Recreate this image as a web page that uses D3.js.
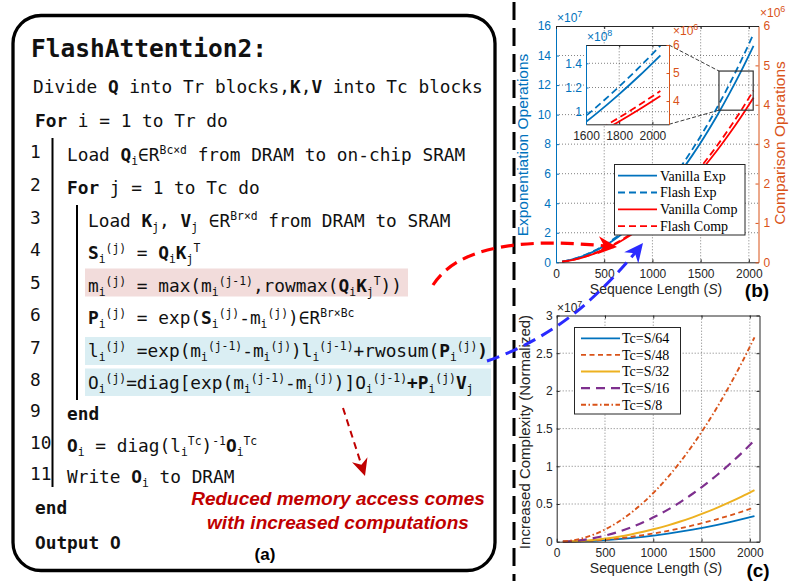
<!DOCTYPE html>
<html>
<head>
<meta charset="utf-8">
<script src="https://cdn.jsdelivr.net/npm/d3@7"></script>
<style>
  body { margin: 0; background: #fff; }
  svg { display: block; }
</style>
</head>
<body>
<script>
// ---------- data ----------
// (b) sequence lengths and operation counts (exp in 1e7, comp in 1e6)
const seqB = [64, 128, 256, 384, 512, 640, 768, 896, 1024, 1152, 1280, 1408, 1536, 1664, 1792, 1920, 2048];
const vanillaExp = [0.051, 0.129, 0.363, 0.702, 1.146, 1.695, 2.348, 3.107, 3.970, 4.938, 6.011, 7.189, 8.471, 9.859, 11.351, 12.948, 14.651];
const flashExp = [0.054, 0.136, 0.383, 0.741, 1.209, 1.788, 2.477, 3.278, 4.188, 5.210, 6.342, 7.584, 8.937, 10.401, 11.975, 13.660, 15.457];
const vanillaComp = [0.016, 0.039, 0.108, 0.206, 0.334, 0.492, 0.679, 0.896, 1.143, 1.419, 1.724, 2.060, 2.425, 2.819, 3.244, 3.697, 4.181];
const flashComp = [0.017, 0.041, 0.113, 0.215, 0.348, 0.513, 0.708, 0.935, 1.192, 1.480, 1.798, 2.149, 2.529, 2.940, 3.383, 3.856, 4.361];
const legendB = ["Vanilla Exp", "Flash Exp", "Vanilla Comp", "Flash Comp"];
const xTicksB = [0, 500, 1000, 1500, 2000];
const yTicksBL = [0, 2, 4, 6, 8, 10, 12, 14, 16];
const yTicksBR = [0, 1, 2, 3, 4, 5, 6];
const xTicksInset = [1600, 1800, 2000];
const yTicksInsetL = [10, 12, 14];
const yTicksInsetR = [4, 5, 6];
const zoomBoxS = [1690, 2045];
const zoomBoxExp = [10.3, 12.95];

// (c) increased complexity (1e7)
const seqC = [64, 128, 256, 384, 512, 640, 768, 896, 1024, 1152, 1280, 1408, 1536, 1664, 1792, 1920, 2048];
const tcS64 = [0.0003, 0.0013, 0.0053, 0.012, 0.0213, 0.0332, 0.0478, 0.0651, 0.085, 0.1076, 0.1328, 0.1607, 0.1913, 0.2245, 0.2603, 0.2988, 0.34];
const tcS48 = [0.0004, 0.0018, 0.0071, 0.016, 0.0284, 0.0444, 0.064, 0.0871, 0.1138, 0.144, 0.1777, 0.2151, 0.2559, 0.3004, 0.3484, 0.3999, 0.455];
const tcS32 = [0.0007, 0.0027, 0.0107, 0.024, 0.0428, 0.0668, 0.0962, 0.1309, 0.171, 0.2164, 0.2672, 0.3233, 0.3848, 0.4515, 0.5237, 0.6012, 0.684];
const tcS16 = [0.0013, 0.0053, 0.021, 0.0473, 0.0841, 0.1313, 0.1891, 0.2574, 0.3363, 0.4256, 0.5254, 0.6357, 0.7566, 0.8879, 1.0298, 1.1821, 1.345];
const tcS8 = [0.0026, 0.0106, 0.0423, 0.0953, 0.1694, 0.2646, 0.3811, 0.5187, 0.6775, 0.8575, 1.0586, 1.2809, 1.5244, 1.789, 2.0748, 2.3818, 2.71];
const legendC = ["Tc=S/64", "Tc=S/48", "Tc=S/32", "Tc=S/16", "Tc=S/8"];
const xTicksC = [0, 500, 1000, 1500, 2000];
const yTicksC = [0, 0.5, 1, 1.5, 2, 2.5, 3];

// (a) algorithm text: [text, format]  b = bold, s = subscript, p = superscript
const codeTitle = [["FlashAttention2:", "b"]];
const codeDivide = [["Divide ", ""], ["Q", "b"], [" into Tr blocks,", ""], ["K", "b"], [",", ""], ["V", "b"], [" into Tc blocks", ""]];
const codeForI = [["For", "b"], [" i = 1 to Tr do", ""]];
const codeRows = [
  [["Load ", ""], ["Q", "b"], ["i", "s"], ["∈R", ""], ["Bc×d", "p"], [" from DRAM to on-chip SRAM", ""]],
  [["For", "b"], [" j = 1 to Tc do", ""]],
  [["Load ", ""], ["K", "b"], ["j", "s"], [", ", ""], ["V", "b"], ["j", "s"], [" ∈R", ""], ["Br×d", "p"], [" from DRAM to SRAM", ""]],
  [["S", "b"], ["i", "s"], ["(j)", "p"], [" = ", ""], ["Q", "b"], ["i", "s"], ["K", "b"], ["j", "s"], ["T", "p"]],
  [["m", ""], ["i", "s"], ["(j)", "p"], [" = max(m", ""], ["i", "s"], ["(j-1)", "p"], [",rowmax(", ""], ["Q", "b"], ["i", "s"], ["K", "b"], ["j", "s"], ["T", "p"], ["))", ""]],
  [["P", "b"], ["i", "s"], ["(j)", "p"], [" = exp(", ""], ["S", "b"], ["i", "s"], ["(j)", "p"], ["-m", ""], ["i", "s"], ["(j)", "p"], [")∈R", ""], ["Br×Bc", "p"]],
  [["l", ""], ["i", "s"], ["(j)", "p"], [" =exp(m", ""], ["i", "s"], ["(j-1)", "p"], ["-m", ""], ["i", "s"], ["(j)", "p"], [")l", ""], ["i", "s"], ["(j-1)", "p"], ["+rwosum(", ""], ["P", "b"], ["i", "s"], ["(j)", "p"], [")", "b"]],
  [["O", ""], ["i", "s"], ["(j)", "p"], ["=diag[exp(m", ""], ["i", "s"], ["(j-1)", "p"], ["-m", ""], ["i", "s"], ["(j)", "p"], [")]O", ""], ["i", "s"], ["(j-1)", "p"], ["+P", "b"], ["i", "s"], ["(j)", "p"], ["V", "b"], ["j", "s"]],
  [["end", "b"]],
  [["O", "b"], ["i", "s"], [" = diag(l", ""], ["i", "s"], ["Tc", "p"], [")", ""], ["-1", "p"], ["O", "b"], ["i", "s"], ["Tc", "p"]],
  [["Write ", ""], ["O", "b"], ["i", "s"], [" to DRAM", ""]]
];
const codeEnd = [["end", "b"]];
const codeOutput = [["Output O", "b"]];
const noteLines = ["Reduced memory access comes", "with increased computations"];

// ---------- layout ----------
const mono = "'DejaVu Sans Mono', 'Liberation Mono', monospace";
const sans = "'Liberation Sans', Arial, sans-serif";
const serif = "'Liberation Serif', 'Times New Roman', serif";
const ink = "#262626";
const blue = "#0072BD", orange = "#D95319", yellow = "#EDB120", purple = "#7E2F8E", red = "#FF0000";
const plain = d => d;

const svg = d3.select("body").append("svg")
    .attr("width", 789)
    .attr("height", 581);

const defs = svg.append("defs");

function arrowMarker(id, color, size) {
    defs.append("marker")
        .attr("id", id)
        .attr("markerUnits", "userSpaceOnUse")
        .attr("viewBox", "-20 -10 22 20")
        .attr("refX", 0)
        .attr("refY", 0)
        .attr("markerWidth", size * 1.1)
        .attr("markerHeight", size)
        .attr("orient", "auto")
        .append("path")
        .attr("d", "M0,0 L-19,-9 L-13,0 L-19,9 Z")
        .attr("fill", color);
}
arrowMarker("arRed", red, 20);
arrowMarker("arBlue", "#2a2aff", 20);
arrowMarker("arDark", "#C00000", 18);

// ---------- panel (a) ----------
const gA = svg.append("g");

gA.append("rect")
    .attr("x", 13).attr("y", 15.5)
    .attr("width", 482).attr("height", 555)
    .attr("rx", 28).attr("ry", 28)
    .attr("fill", "none")
    .attr("stroke", "#000")
    .attr("stroke-width", 3.3);

// highlight bands
gA.append("rect").attr("x", 85).attr("y", 268.5).attr("width", 323).attr("height", 28).attr("fill", "#F2DCDB");
gA.append("rect").attr("x", 85).attr("y", 337).attr("width", 406).attr("height", 28).attr("fill", "#DAEEF3");
gA.append("rect").attr("x", 85).attr("y", 368.5).attr("width", 406).attr("height", 27.5).attr("fill", "#DAEEF3");

// indentation bars
gA.append("line").attr("x1", 52.5).attr("x2", 52.5).attr("y1", 138).attr("y2", 487).attr("stroke", "#000").attr("stroke-width", 2);
gA.append("line").attr("x1", 77).attr("x2", 77).attr("y1", 205).attr("y2", 400).attr("stroke", "#000").attr("stroke-width", 2);

function codeText(x, y, segs, size) {
    const small = size * 0.64;
    const t = gA.append("text")
        .attr("x", x).attr("y", y)
        .attr("font-family", mono)
        .attr("font-size", size)
        .attr("fill", "#111")
        .style("white-space", "pre");
    segs.forEach(([s, f]) => {
        const sp = t.append("tspan").text(s);
        if (f.includes("b")) sp.attr("font-weight", "bold");
        if (f.includes("s")) sp.attr("y", y + 4).attr("font-size", small);
        else if (f.includes("p")) sp.attr("y", y - 7).attr("font-size", small);
        else sp.attr("y", y);
    });
}

codeText(31, 57, codeTitle, 24.5);
codeText(33, 93, codeDivide, 17.8);
codeText(35, 127, codeForI, 17.8);

const rowY = [161, 194, 227, 259, 292, 324, 357, 389, 420, 452, 483];
const rowX = [67, 67, 88, 88, 88, 88, 88, 88, 67, 67, 67];
codeRows.forEach((segs, i) => {
    gA.append("text")
        .attr("x", 30).attr("y", rowY[i] - 3)
        .attr("font-family", mono)
        .attr("font-size", 17.8)
        .attr("fill", "#111")
        .text(i + 1);
    codeText(rowX[i], rowY[i], segs, 17.8);
});
codeText(35, 514, codeEnd, 17.8);
codeText(35, 549, codeOutput, 17.8);

gA.selectAll(".note")
    .data(noteLines)
    .join("text")
    .attr("x", 338)
    .attr("y", (d, i) => 505 + i * 23.5)
    .attr("text-anchor", "middle")
    .attr("font-family", sans)
    .attr("font-size", 19)
    .attr("font-weight", "bold")
    .attr("font-style", "italic")
    .attr("fill", "#C00000")
    .text(d => d);

gA.append("text")
    .attr("x", 265).attr("y", 560)
    .attr("text-anchor", "middle")
    .attr("font-family", sans)
    .attr("font-size", 17)
    .attr("font-weight", "bold")
    .text("(a)");

gA.append("path")
    .attr("d", "M343,408 L365,476")
    .attr("fill", "none")
    .attr("stroke", "#C00000")
    .attr("stroke-width", 2)
    .attr("stroke-dasharray", "7,5")
    .attr("marker-end", "url(#arDark)");

// separator
svg.append("line")
    .attr("x1", 514).attr("x2", 514)
    .attr("y1", 2).attr("y2", 581)
    .attr("stroke", "#000")
    .attr("stroke-width", 3)
    .attr("stroke-dasharray", "18,8");

// ---------- helpers ----------
function styleAxis(g, color, size) {
    g.attr("font-family", sans).attr("font-size", size);
    g.select(".domain").attr("stroke", color).attr("stroke-width", 1);
    g.selectAll(".tick line").attr("stroke", color);
    g.selectAll(".tick text").attr("fill", color);
}

function expLabel(g, x, y, exp, color) {
    const t = g.append("text")
        .attr("x", x).attr("y", y)
        .attr("font-family", sans)
        .attr("font-size", 12)
        .attr("fill", color)
        .text("×10");
    t.append("tspan").attr("dy", -5).attr("font-size", 9).text(exp);
}

function gridLines(g, xs, ys, xScale, yScale, xd, yd) {
    g.selectAll(null).data(xs).join("line")
        .attr("x1", d => xScale(d)).attr("x2", d => xScale(d))
        .attr("y1", yScale(yd[0])).attr("y2", yScale(yd[1]))
        .attr("stroke", "#444").attr("stroke-width", 0.9)
        .attr("stroke-dasharray", "1,2").attr("opacity", 0.75);
    g.selectAll(null).data(ys).join("line")
        .attr("y1", d => yScale(d)).attr("y2", d => yScale(d))
        .attr("x1", xScale(xd[0])).attr("x2", xScale(xd[1]))
        .attr("stroke", "#444").attr("stroke-width", 0.9)
        .attr("stroke-dasharray", "1,2").attr("opacity", 0.75);
}

// ---------- panel (b) ----------
const gB = svg.append("g");
const xB = d3.scaleLinear().domain([0, 2100]).range([556, 758.5]);
const yBL = d3.scaleLinear().domain([0, 16]).range([262.3, 26]);
const yBR = d3.scaleLinear().domain([0, 6]).range([262.3, 26]);

gridLines(gB, xTicksB.slice(1), yTicksBL.slice(1, -1), xB, yBL, [0, 2100], [0, 16]);

const seriesB = [
    { vals: vanillaExp, y: yBL, color: blue, dash: null },
    { vals: flashExp, y: yBL, color: blue, dash: "7,4" },
    { vals: vanillaComp, y: yBR, color: red, dash: null },
    { vals: flashComp, y: yBR, color: red, dash: "7,4" }
];

function drawSeriesB(g, xs, yMap) {
    seriesB.forEach((s, i) => {
        const line = d3.line()
            .x(d => xs(d[0]))
            .y(d => yMap[i](d[1]))
            .curve(d3.curveMonotoneX);
        g.append("path")
            .datum(d3.zip(seqB, s.vals))
            .attr("fill", "none")
            .attr("stroke", s.color)
            .attr("stroke-width", 1.8)
            .attr("stroke-dasharray", s.dash)
            .attr("d", line);
    });
}
drawSeriesB(gB, xB, seriesB.map(s => s.y));

// axes
gB.append("g")
    .attr("transform", `translate(0,${yBL(0)})`)
    .call(d3.axisBottom(xB).tickValues(xTicksB).tickFormat(plain).tickSizeInner(-3).tickSizeOuter(0).tickPadding(7))
    .call(g => styleAxis(g, ink, 12));
gB.append("g")
    .attr("transform", `translate(${xB(0)},0)`)
    .call(d3.axisLeft(yBL).tickValues(yTicksBL).tickFormat(plain).tickSizeInner(-3).tickSizeOuter(0).tickPadding(5))
    .call(g => styleAxis(g, blue, 12));
gB.append("g")
    .attr("transform", `translate(${xB(2100)},0)`)
    .call(d3.axisRight(yBR).tickValues(yTicksBR).tickFormat(plain).tickSizeInner(-3).tickSizeOuter(0).tickPadding(5))
    .call(g => styleAxis(g, orange, 12));
gB.append("g")
    .attr("transform", `translate(0,${yBL(16)})`)
    .call(d3.axisTop(xB).tickValues(xTicksB).tickSizeInner(-3).tickSizeOuter(0).tickFormat(""))
    .call(g => styleAxis(g, ink, 12));

expLabel(gB, 557, 22, "7", blue);
expLabel(gB, 760, 17, "6", orange);

gB.append("text")
    .attr("transform", "translate(528,145) rotate(-90)")
    .attr("text-anchor", "middle")
    .attr("font-family", sans).attr("font-size", 15.5)
    .attr("fill", blue)
    .text("Exponentiation Operations");
gB.append("text")
    .attr("transform", "translate(785,143) rotate(-90)")
    .attr("text-anchor", "middle")
    .attr("font-family", sans).attr("font-size", 15.5)
    .attr("fill", orange)
    .text("Comparison Operations");

const xLabB = gB.append("text")
    .attr("x", 656).attr("y", 294)
    .attr("text-anchor", "middle")
    .attr("font-family", sans).attr("font-size", 14)
    .attr("fill", ink)
    .text("Sequence Length (");
xLabB.append("tspan").attr("font-style", "italic").text("S");
xLabB.append("tspan").text(")");

gB.append("text")
    .attr("x", 757).attr("y", 297)
    .attr("text-anchor", "middle")
    .attr("font-family", sans).attr("font-size", 19).attr("font-weight", "bold")
    .text("(b)");

// zoom box and connectors
gB.append("rect")
    .attr("x", xB(zoomBoxS[0])).attr("y", yBL(zoomBoxExp[1]))
    .attr("width", xB(zoomBoxS[1]) - xB(zoomBoxS[0]))
    .attr("height", yBL(zoomBoxExp[0]) - yBL(zoomBoxExp[1]))
    .attr("fill", "none").attr("stroke", "#333").attr("stroke-width", 1.2);

// inset
const xI = d3.scaleLinear().domain([1600, 2100]).range([586, 669]);
const yIL = d3.scaleLinear().domain([8.96, 15.51]).range([124.3, 45]);
const yIR = d3.scaleLinear().domain([3.17, 6]).range([124.3, 45]);

gB.append("line")
    .attr("x1", xI(2100)).attr("y1", yIL(15.51))
    .attr("x2", xB(zoomBoxS[0])).attr("y2", yBL(zoomBoxExp[1]))
    .attr("stroke", "#222").attr("stroke-width", 0.9).attr("stroke-dasharray", "4,2");
gB.append("line")
    .attr("x1", xI(2100)).attr("y1", yIL(8.96))
    .attr("x2", xB(zoomBoxS[0])).attr("y2", yBL(zoomBoxExp[0]))
    .attr("stroke", "#222").attr("stroke-width", 0.9).attr("stroke-dasharray", "4,2");

const gI = gB.append("g");
gI.append("rect")
    .attr("x", xI(1600)).attr("y", yIL(15.51))
    .attr("width", xI(2100) - xI(1600)).attr("height", yIL(8.96) - yIL(15.51))
    .attr("fill", "#fff");
gridLines(gI, xTicksInset.slice(1), yTicksInsetL, xI, yIL, [1600, 2100], [8.96, 15.51]);

defs.append("clipPath").attr("id", "clipInset")
    .append("rect")
    .attr("x", xI(1600)).attr("y", yIL(15.51))
    .attr("width", xI(2100) - xI(1600)).attr("height", yIL(8.96) - yIL(15.51));
const gIL = gI.append("g").attr("clip-path", "url(#clipInset)");
drawSeriesB(gIL, xI, [yIL, yIL, yIR, yIR]);

gI.append("g")
    .attr("transform", `translate(0,${yIL(8.96)})`)
    .call(d3.axisBottom(xI).tickValues(xTicksInset).tickFormat(plain).tickSizeInner(-2.5).tickSizeOuter(0).tickPadding(7))
    .call(g => styleAxis(g, ink, 12));
gI.append("g")
    .attr("transform", `translate(0,${yIL(15.51)})`)
    .call(d3.axisTop(xI).tickValues(xTicksInset).tickSizeInner(-2.5).tickSizeOuter(0).tickFormat(""))
    .call(g => styleAxis(g, ink, 12));
gI.append("g")
    .attr("transform", `translate(${xI(1600)},0)`)
    .call(d3.axisLeft(yIL).tickValues(yTicksInsetL).tickSizeInner(-2.5).tickSizeOuter(0).tickPadding(4)
        .tickFormat(d => d / 10))
    .call(g => styleAxis(g, blue, 12));
gI.append("g")
    .attr("transform", `translate(${xI(2100)},0)`)
    .call(d3.axisRight(yIR).tickValues(yTicksInsetR).tickFormat(plain).tickSizeInner(-2.5).tickSizeOuter(0).tickPadding(4))
    .call(g => styleAxis(g, orange, 12));
expLabel(gI, 587, 41, "8", blue);
expLabel(gI, 673, 34.5, "6", orange);

// legend (b)
const lgB = gB.append("g");
lgB.append("rect")
    .attr("x", 614.5).attr("y", 164.5).attr("width", 130.5).attr("height", 70.5)
    .attr("fill", "#fff").attr("stroke", ink).attr("stroke-width", 1);
legendB.forEach((name, i) => {
    const y = 175.7 + i * 16.8;
    lgB.append("line")
        .attr("x1", 618).attr("x2", 657).attr("y1", y).attr("y2", y)
        .attr("stroke", seriesB[i].color).attr("stroke-width", 1.8)
        .attr("stroke-dasharray", seriesB[i].dash);
    lgB.append("text")
        .attr("x", 660).attr("y", y).attr("dy", "0.35em")
        .attr("font-family", serif).attr("font-size", 14)
        .attr("fill", "#000")
        .text(name);
});

// ---------- panel (c) ----------
const gC = svg.append("g");
const xC = d3.scaleLinear().domain([0, 2100]).range([556.7, 759.5]);
const yC = d3.scaleLinear().domain([0, 3]).range([541.7, 315.5]);

gridLines(gC, xTicksC.slice(1), yTicksC.slice(1, -1), xC, yC, [0, 2100], [0, 3]);

const seriesC = [
    { vals: tcS64, color: blue, dash: null, w: 1.8 },
    { vals: tcS48, color: orange, dash: "5,3.5", w: 1.8 },
    { vals: tcS32, color: yellow, dash: null, w: 2 },
    { vals: tcS16, color: purple, dash: "9,6", w: 2.2 },
    { vals: tcS8, color: orange, dash: "5,2.5,1.5,2.5", w: 1.9 }
];
const lineC = d3.line()
    .x(d => xC(d[0]))
    .y(d => yC(d[1]))
    .curve(d3.curveMonotoneX);
seriesC.forEach(s => {
    gC.append("path")
        .datum(d3.zip(seqC, s.vals))
        .attr("fill", "none")
        .attr("stroke", s.color)
        .attr("stroke-width", s.w)
        .attr("stroke-dasharray", s.dash)
        .attr("d", lineC);
});

gC.append("g")
    .attr("transform", `translate(0,${yC(0)})`)
    .call(d3.axisBottom(xC).tickValues(xTicksC).tickFormat(plain).tickSizeInner(-3).tickSizeOuter(0).tickPadding(7))
    .call(g => styleAxis(g, ink, 12));
gC.append("g")
    .attr("transform", `translate(0,${yC(3)})`)
    .call(d3.axisTop(xC).tickValues(xTicksC).tickSizeInner(-3).tickSizeOuter(0).tickFormat(""))
    .call(g => styleAxis(g, ink, 12));
gC.append("g")
    .attr("transform", `translate(${xC(0)},0)`)
    .call(d3.axisLeft(yC).tickValues(yTicksC).tickFormat(plain).tickSizeInner(-3).tickSizeOuter(0).tickPadding(4))
    .call(g => styleAxis(g, ink, 12));
gC.append("g")
    .attr("transform", `translate(${xC(2100)},0)`)
    .call(d3.axisRight(yC).tickValues(yTicksC).tickSizeInner(-3).tickSizeOuter(0).tickFormat(""))
    .call(g => styleAxis(g, ink, 12));

expLabel(gC, 557, 312, "7", ink);

gC.append("text")
    .attr("transform", "translate(530,432) rotate(-90)")
    .attr("text-anchor", "middle")
    .attr("font-family", sans).attr("font-size", 15)
    .attr("fill", ink)
    .text("Increased Complexity (Normalized)");

const xLabC = gC.append("text")
    .attr("x", 656).attr("y", 573)
    .attr("text-anchor", "middle")
    .attr("font-family", sans).attr("font-size", 14)
    .attr("fill", ink)
    .text("Sequence Length (");
xLabC.append("tspan").attr("font-style", "italic").text("S");
xLabC.append("tspan").text(")");

gC.append("text")
    .attr("x", 758).attr("y", 577)
    .attr("text-anchor", "middle")
    .attr("font-family", sans).attr("font-size", 19).attr("font-weight", "bold")
    .text("(c)");

const lgC = gC.append("g");
lgC.append("rect")
    .attr("x", 574.5).attr("y", 327.5).attr("width", 106).attr("height", 86.5)
    .attr("fill", "#fff").attr("stroke", ink).attr("stroke-width", 1);
legendC.forEach((name, i) => {
    const y = 338.3 + i * 16.6;
    lgC.append("line")
        .attr("x1", 581).attr("x2", 620).attr("y1", y).attr("y2", y)
        .attr("stroke", seriesC[i].color).attr("stroke-width", seriesC[i].w)
        .attr("stroke-dasharray", seriesC[i].dash);
    lgC.append("text")
        .attr("x", 622).attr("y", y).attr("dy", "0.35em")
        .attr("font-family", serif).attr("font-size", 14)
        .attr("fill", "#000")
        .text(name);
});

// ---------- connecting arrows ----------
svg.append("path")
    .attr("d", "M433,285 C448,262 475,250 515,245 C550,241 585,244 617,247")
    .attr("fill", "none")
    .attr("stroke", red)
    .attr("stroke-width", 3.2)
    .attr("stroke-dasharray", "13,7")
    .attr("marker-end", "url(#arRed)");

svg.append("path")
    .attr("d", "M487,361 C520,350 560,328 590,300 C610,282 628,262 643,243")
    .attr("fill", "none")
    .attr("stroke", "#2a2aff")
    .attr("stroke-width", 3)
    .attr("stroke-dasharray", "13,7")
    .attr("marker-end", "url(#arBlue)");
</script>
</body>
</html>
